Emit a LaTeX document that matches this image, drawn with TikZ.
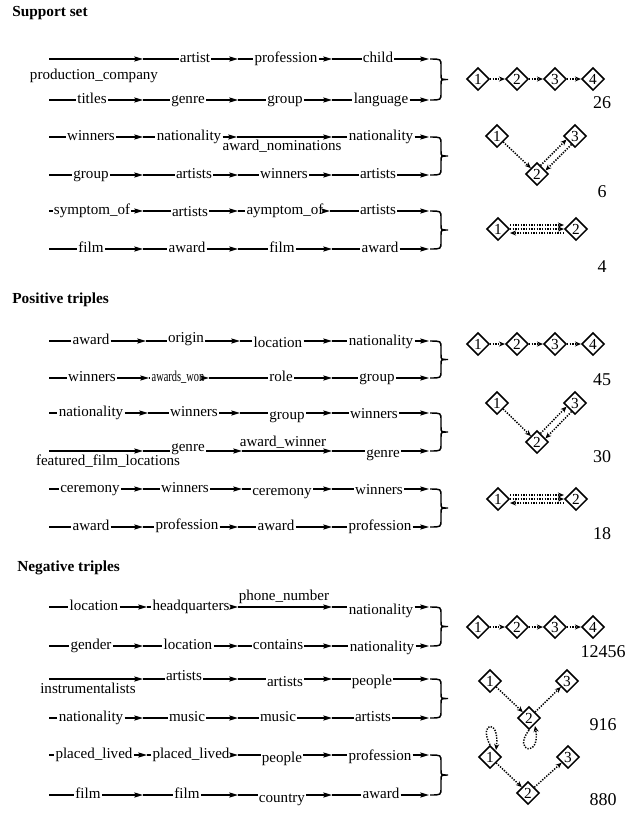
\documentclass[tikz,border=0pt]{standalone}
\usepackage{fontspec}
\setmainfont{Liberation Serif}
\usetikzlibrary{arrows.meta,shapes.geometric}
\tikzset{
 lab/.style={inner xsep=0.8pt, inner ysep=0pt, text height=0.68em, text depth=0.22em, font=\fontsize{11.3}{13}\selectfont},
 ln/.style={line width=0.9pt},
 ar/.style={line width=0.9pt, -{Stealth[length=6.5pt,width=3.8pt,inset=1pt]}},
 brc/.style={line width=1.1pt},
 dia/.style={diamond, draw, line width=1.1pt, minimum width=17pt, minimum height=17pt, inner sep=0pt, aspect=1, font=\fontsize{11.5}{12}\selectfont},
 dar/.style={line width=1.1pt, dash pattern=on 1pt off 1pt, -{Stealth[length=4.5pt,width=3.8pt]}},
 num/.style={font=\fontsize{13.5}{16}\selectfont},
 ttl/.style={anchor=west, font=\bfseries\fontsize{11.5}{13}\selectfont, inner sep=0pt},
}
\newcommand\segin[3]{\draw[ln] (#1) -- (#2.west |- #3); \draw[ar] (#2.east |- #3) -- (#3);}
\newcommand\segout[2]{\draw[ar] (#1) -- (#2);}
\newcommand\rowpts[6]{\coordinate (#1o) at (49,#2); \coordinate (#1t1) at (#3,#2); \coordinate (#1t2) at (#4,#2); \coordinate (#1t3) at (#5,#2); \coordinate (#1t4) at (#6,#2);}
\newcommand\rbrc[2]{\draw[brc] (430,#1) .. controls (441,#1) .. (441,#1+7) -- (441,{(#1+#2)/2-5}) .. controls (441,{(#1+#2)/2}) .. (448,{(#1+#2)/2}) .. controls (441,{(#1+#2)/2}) .. (441,{(#1+#2)/2+5}) -- (441,#2-7) .. controls (441,#2) .. (430,#2);}
\begin{document}
\begin{tikzpicture}[x=0.75pt,y=-0.75pt]
\useasboundingbox (0,0) rectangle (629,815);
% titles
\node[ttl] (t1) at (12,13) {Support set};
\node[ttl] (t2) at (12,300) {Positive triples};
\node[ttl] (t3) at (17,568) {Negative triples};

% ---------- Support set ----------
\rowpts{S1}{59}{143}{238}{332}{429}
\node[lab] (s1a) at (94,76) {production\_company};
\node[lab] (s1b) at (195,59) {artist};
\node[lab] (s1c) at (286,59) {profession};
\node[lab] (s1d) at (378,59) {child};
\segout{S1o}{S1t1}
\segin{S1t1}{s1b}{S1t2}
\segin{S1t2}{s1c}{S1t3}
\segin{S1t3}{s1d}{S1t4}

\rowpts{S2}{100}{143}{238}{332}{429}
\node[lab] (s2a) at (92,100) {titles};
\node[lab] (s2b) at (188,100) {genre};
\node[lab] (s2c) at (285,100) {group};
\node[lab] (s2d) at (381,100) {language};
\segin{S2o}{s2a}{S2t1}
\segin{S2t1}{s2b}{S2t2}
\segin{S2t2}{s2c}{S2t3}
\segin{S2t3}{s2d}{S2t4}
\rbrc{59}{100}

\rowpts{S3}{137}{143}{237}{332}{429}
\node[lab] (s3a) at (91,137) {winners};
\node[lab] (s3b) at (189,137) {nationality};
\node[lab] (s3c) at (282,147) {award\_nominations};
\node[lab] (s3d) at (381,137) {nationality};
\segin{S3o}{s3a}{S3t1}
\segin{S3t1}{s3b}{S3t2}
\segout{S3t2}{S3t3}
\segin{S3t3}{s3d}{S3t4}

\rowpts{S4}{175}{143}{238}{332}{429}
\node[lab] (s4a) at (91,175) {group};
\node[lab] (s4b) at (194,175) {artists};
\node[lab] (s4c) at (284,175) {winners};
\node[lab] (s4d) at (378,175) {artists};
\segin{S4o}{s4a}{S4t1}
\segin{S4t1}{s4b}{S4t2}
\segin{S4t2}{s4c}{S4t3}
\segin{S4t3}{s4d}{S4t4}
\rbrc{137}{175}

\rowpts{S5}{211}{143}{238}{330}{429}
\node[lab] (s5a) at (92,211) {symptom\_of};
\node[lab] (s5b) at (190,213) {artists};
\node[lab] (s5c) at (285,211) {aymptom\_of};
\node[lab] (s5d) at (378,211) {artists};
\segin{S5o}{s5a}{S5t1}
\segin{S5t1}{s5b}{S5t2}
\segin{S5t2}{s5c}{S5t3}
\segin{S5t3}{s5d}{S5t4}

\rowpts{S6}{249}{143}{238}{332}{429}
\node[lab] (s6a) at (91,249) {film};
\node[lab] (s6b) at (187,249) {award};
\node[lab] (s6c) at (282,249) {film};
\node[lab] (s6d) at (380,249) {award};
\segin{S6o}{s6a}{S6t1}
\segin{S6t1}{s6b}{S6t2}
\segin{S6t2}{s6c}{S6t3}
\segin{S6t3}{s6d}{S6t4}
\rbrc{211}{249}

% ---------- Positive triples ----------
\rowpts{P1}{341}{146}{240}{332}{429}
\node[lab] (p1a) at (91,341) {award};
\node[lab] (p1b) at (186,339) {origin};
\node[lab] (p1c) at (278,344) {location};
\node[lab] (p1d) at (381,342) {nationality};
\segin{P1o}{p1a}{P1t1}
\segin{P1t1}{p1b}{P1t2}
\segin{P1t2}{p1c}{P1t3}
\segin{P1t3}{p1d}{P1t4}

\rowpts{P2}{378}{149}{209}{332}{429}
\node[lab] (p2a) at (92,378) {winners};
\node[lab] (p2b) at (178,378) {\scalebox{0.69}[1]{awards\_won}};
\node[lab] (p2c) at (281,378) {role};
\node[lab] (p2d) at (377,378) {group};
\segin{P2o}{p2a}{P2t1}
\segin{P2t1}{p2b}{P2t2}
\segin{P2t2}{p2c}{P2t3}
\segin{P2t3}{p2d}{P2t4}
\rbrc{341}{378}

\rowpts{P3}{413}{148}{240}{332}{429}
\node[lab] (p3a) at (91,413) {nationality};
\node[lab] (p3b) at (194,413) {winners};
\node[lab] (p3c) at (287,416) {group};
\node[lab] (p3d) at (374,415) {winners};
\segin{P3o}{p3a}{P3t1}
\segin{P3t1}{p3b}{P3t2}
\segin{P3t2}{p3c}{P3t3}
\segin{P3t3}{p3d}{P3t4}

\rowpts{P4}{451}{143}{242}{332}{429}
\node[lab] (p4a) at (108,462) {featured\_film\_locations};
\node[lab] (p4b) at (188,448) {genre};
\node[lab] (p4c) at (283,443) {award\_winner};
\node[lab] (p4d) at (383,454) {genre};
\segout{P4o}{P4t1}
\segin{P4t1}{p4b}{P4t2}
\segout{P4t2}{P4t3}
\segin{P4t3}{p4d}{P4t4}
\rbrc{413}{451}

\rowpts{P5}{489}{143}{242}{332}{429}
\node[lab] (p5a) at (90,489) {ceremony};
\node[lab] (p5b) at (185,489) {winners};
\node[lab] (p5c) at (282,492) {ceremony};
\node[lab] (p5d) at (379,491) {winners};
\segin{P5o}{p5a}{P5t1}
\segin{P5t1}{p5b}{P5t2}
\segin{P5t2}{p5c}{P5t3}
\segin{P5t3}{p5d}{P5t4}

\rowpts{P6}{527}{143}{238}{332}{429}
\node[lab] (p6a) at (91,527) {award};
\node[lab] (p6b) at (187,526) {profession};
\node[lab] (p6c) at (276,527) {award};
\node[lab] (p6d) at (380,527) {profession};
\segin{P6o}{p6a}{P6t1}
\segin{P6t1}{p6b}{P6t2}
\segin{P6t2}{p6c}{P6t3}
\segin{P6t3}{p6d}{P6t4}
\rbrc{489}{527}

% ---------- Negative triples ----------
\rowpts{N1}{607}{147}{238}{332}{429}
\node[lab] (n1a) at (94,607) {location};
\node[lab] (n1b) at (191,607) {headquarters};
\node[lab] (n1c) at (284,597) {phone\_number};
\node[lab] (n1d) at (381,611) {nationality};
\segin{N1o}{n1a}{N1t1}
\segin{N1t1}{n1b}{N1t2}
\segout{N1t2}{N1t3}
\segin{N1t3}{n1d}{N1t4}

\rowpts{N2}{646}{143}{238}{332}{429}
\node[lab] (n2a) at (91,646) {gender};
\node[lab] (n2b) at (188,646) {location};
\node[lab] (n2c) at (278,646) {contains};
\node[lab] (n2d) at (382,648) {nationality};
\segin{N2o}{n2a}{N2t1}
\segin{N2t1}{n2b}{N2t2}
\segin{N2t2}{n2c}{N2t3}
\segin{N2t3}{n2d}{N2t4}
\rbrc{607}{646}

\rowpts{N3}{679}{143}{238}{332}{429}
\node[lab] (n3a) at (88,690) {instrumentalists};
\node[lab] (n3b) at (184,677) {artists};
\node[lab] (n3c) at (285,683) {artists};
\node[lab] (n3d) at (372,682) {people};
\segout{N3o}{N3t1}
\segin{N3t1}{n3b}{N3t2}
\segin{N3t2}{n3c}{N3t3}
\segin{N3t3}{n3d}{N3t4}

\rowpts{N4}{718}{143}{238}{332}{429}
\node[lab] (n4a) at (91,718) {nationality};
\node[lab] (n4b) at (187,718) {music};
\node[lab] (n4c) at (278,718) {music};
\node[lab] (n4d) at (373,718) {artists};
\segin{N4o}{n4a}{N4t1}
\segin{N4t1}{n4b}{N4t2}
\segin{N4t2}{n4c}{N4t3}
\segin{N4t3}{n4d}{N4t4}
\rbrc{679}{718}

\rowpts{N5}{755}{147}{238}{332}{429}
\node[lab] (n5a) at (94,755) {placed\_lived};
\node[lab] (n5b) at (191,755) {placed\_lived};
\node[lab] (n5c) at (282,759) {people};
\node[lab] (n5d) at (380,757) {profession};
\segin{N5o}{n5a}{N5t1}
\segin{N5t1}{n5b}{N5t2}
\segin{N5t2}{n5c}{N5t3}
\segin{N5t3}{n5d}{N5t4}

\rowpts{N6}{795}{143}{238}{332}{429}
\node[lab] (n6a) at (88,795) {film};
\node[lab] (n6b) at (187,795) {film};
\node[lab] (n6c) at (282,799) {country};
\node[lab] (n6d) at (381,795) {award};
\segin{N6o}{n6a}{N6t1}
\segin{N6t1}{n6b}{N6t2}
\segin{N6t2}{n6c}{N6t3}
\segin{N6t3}{n6d}{N6t4}
\rbrc{755}{795}

% ---------- Diamond patterns ----------
% support
\node[dia] (sc1) at (478,79) {1};
\node[dia] (sc2) at (517,79) {2};
\node[dia] (sc3) at (555,79) {3};
\node[dia] (sc4) at (593,79) {4};
\draw[dar] (sc1) -- (sc2);
\draw[dar] (sc2) -- (sc3);
\draw[dar] (sc3) -- (sc4);
\node[num] (sn1) at (602,103) {26};

\node[dia] (sv1) at (497,136) {1};
\node[dia] (sv2) at (537,174) {2};
\node[dia] (sv3) at (575,136) {3};
\draw[dar] (sv1) -- (sv2);
\draw[dar, transform canvas={shift={(-2.5,-2.5)}}] (sv2) -- (sv3);
\draw[dar, transform canvas={shift={(2.5,2.5)}}] (sv3) -- (sv2);
\node[num] (sn2) at (602,192) {6};

\node[dia] (sp1) at (498,229) {1};
\node[dia] (sp2) at (576,229) {2};
\draw[dar, transform canvas={shift={(0,-4)}}] (sp1) -- (sp2);
\draw[dar] (sp1) -- (sp2);
\draw[dar, transform canvas={shift={(0,4)}}] (sp2) -- (sp1);
\node[num] (sn3) at (602,267) {4};

% positive
\node[dia] (pc1) at (478,344) {1};
\node[dia] (pc2) at (517,344) {2};
\node[dia] (pc3) at (555,344) {3};
\node[dia] (pc4) at (593,344) {4};
\draw[dar] (pc1) -- (pc2);
\draw[dar] (pc2) -- (pc3);
\draw[dar] (pc3) -- (pc4);
\node[num] (pn1) at (602,380) {45};

\node[dia] (pv1) at (497,403) {1};
\node[dia] (pv2) at (537,442) {2};
\node[dia] (pv3) at (575,403) {3};
\draw[dar] (pv1) -- (pv2);
\draw[dar, transform canvas={shift={(-2.5,-2.5)}}] (pv2) -- (pv3);
\draw[dar, transform canvas={shift={(2.5,2.5)}}] (pv3) -- (pv2);
\node[num] (pn2) at (602,457) {30};

\node[dia] (pp1) at (498,499) {1};
\node[dia] (pp2) at (576,499) {2};
\draw[dar, transform canvas={shift={(0,-4)}}] (pp1) -- (pp2);
\draw[dar] (pp1) -- (pp2);
\draw[dar, transform canvas={shift={(0,4)}}] (pp2) -- (pp1);
\node[num] (pn3) at (602,534) {18};

% negative
\node[dia] (nc1) at (478,627) {1};
\node[dia] (nc2) at (517,627) {2};
\node[dia] (nc3) at (555,627) {3};
\node[dia] (nc4) at (593,627) {4};
\draw[dar] (nc1) -- (nc2);
\draw[dar] (nc2) -- (nc3);
\draw[dar] (nc3) -- (nc4);
\node[num] (nn1) at (603,652) {12456};

\node[dia] (nv1) at (490,681) {1};
\node[dia] (nv2) at (529,718) {2};
\node[dia] (nv3) at (567,681) {3};
\draw[dar] (nv1) -- (nv2);
\draw[dar] (nv2) -- (nv3);
\draw[dar] (nv2.south) .. controls (512,752) and (541,758) .. (535,726);
\node[num] (nn2) at (603,725) {916};

\node[dia] (nw1) at (490,757) {1};
\node[dia] (nw2) at (528,793) {2};
\node[dia] (nw3) at (568,757) {3};
\draw[dar] (nw1) -- (nw2);
\draw[dar] (nw2) -- (nw3);
\draw[dar] (nw1.north) .. controls (478,722) and (500,718) .. (496,750);
\node[num] (nn3) at (603,800) {880};
\end{tikzpicture}
\end{document}
